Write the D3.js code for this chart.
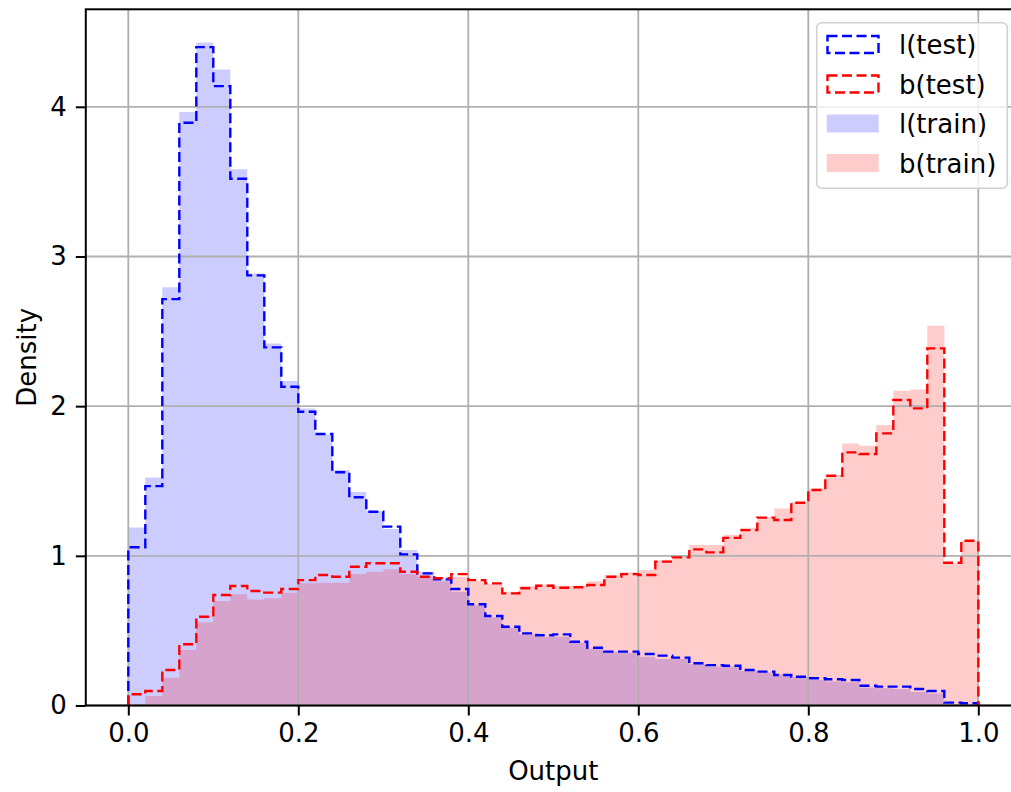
<!DOCTYPE html>
<html>
<head>
<meta charset="utf-8">
<script src="https://cdn.jsdelivr.net/npm/d3@7"></script>
<style>
  html, body { margin: 0; padding: 0; background: #fff; overflow: hidden; }
  svg { display: block; font-family: "DejaVu Sans", sans-serif; }
</style>
</head>
<body>
<svg id="chart" width="1011" height="792"></svg>
<script>
// Histogram densities, 50 equal bins on [0, 1]
const binCount = 50;
const lTest = [1.057,1.466,2.715,3.894,4.399,4.138,3.519,2.874,2.393,2.130,
               1.963,1.814,1.558,1.391,1.295,1.195,1.010,0.883,0.843,0.778,
               0.676,0.598,0.526,0.482,0.469,0.475,0.426,0.386,0.360,0.360,
               0.344,0.333,0.320,0.282,0.270,0.266,0.237,0.226,0.204,0.192,
               0.182,0.175,0.170,0.132,0.126,0.126,0.110,0.097,0.019,0.015];
const bTest = [0.075,0.097,0.237,0.409,0.593,0.738,0.798,0.765,0.754,0.778,
               0.838,0.872,0.860,0.927,0.950,0.950,0.894,0.860,0.850,0.878,
               0.838,0.816,0.749,0.783,0.800,0.787,0.790,0.805,0.860,0.878,
               0.872,0.961,0.990,1.043,1.023,1.120,1.172,1.255,1.239,1.355,
               1.440,1.535,1.691,1.680,1.818,2.041,1.985,2.386,0.954,1.101];
const lTrain = [1.190,1.524,2.794,3.965,4.430,4.250,3.582,2.887,2.419,2.168,
                1.985,1.810,1.573,1.426,1.300,1.179,1.039,0.894,0.840,0.760,
                0.670,0.590,0.520,0.475,0.460,0.460,0.420,0.380,0.355,0.350,
                0.326,0.310,0.310,0.278,0.260,0.260,0.230,0.220,0.210,0.190,
                0.170,0.160,0.155,0.120,0.115,0.110,0.090,0.080,0.010,0.010];
const bTrain = [0.010,0.063,0.186,0.371,0.556,0.698,0.743,0.709,0.716,0.754,
                0.816,0.820,0.820,0.878,0.894,0.910,0.878,0.860,0.830,0.860,
                0.830,0.810,0.760,0.800,0.810,0.800,0.800,0.830,0.870,0.890,
                0.905,0.970,1.000,1.072,1.072,1.140,1.188,1.260,1.317,1.360,
                1.450,1.540,1.751,1.736,1.874,2.103,2.112,2.537,0.950,1.100];

const xTicks = [0, 0.2, 0.4, 0.6, 0.8, 1.0];
const yTicks = [0, 1, 2, 3, 4];
const legendLabels = ["l(test)", "b(test)", "l(train)", "b(train)"];

const svg = d3.select("#chart");
const plot = { left: 85.8, right: 1020.8, top: 9.3, bottom: 705.5 };
const fontSize = 26;

const yMax = d3.max([...lTest, ...bTest, ...lTrain, ...bTrain]) * 1.05;
const x = d3.scaleLinear().domain([-0.05, 1.05]).range([plot.left, plot.right]);
const y = d3.scaleLinear().domain([0, yMax]).range([plot.bottom, plot.top]);

const edges = d3.range(binCount + 1).map(i => i / binCount);

// Outline of a histogram as a step path, from the baseline at 0 to the baseline at 1
function stepPoints(values) {
  const pts = [[edges[0], 0]];
  values.forEach((v, i) => { pts.push([edges[i], v]); pts.push([edges[i + 1], v]); });
  pts.push([edges[binCount], 0]);
  return pts;
}
const line = d3.line().x(d => x(d[0])).y(d => y(d[1]));

// Training histograms: translucent filled steps
const fills = svg.append("g");
fills.append("path").attr("d", line(stepPoints(lTrain)) + "Z")
  .attr("fill", "rgb(0,0,255)").attr("fill-opacity", 0.2);
fills.append("path").attr("d", line(stepPoints(bTrain)) + "Z")
  .attr("fill", "rgb(255,0,0)").attr("fill-opacity", 0.2);

// Grid
const grid = svg.append("g").attr("stroke", "#b0b0b0").attr("stroke-width", 1.8);
grid.selectAll("line.gx").data(xTicks).join("line")
  .attr("x1", d => x(d)).attr("x2", d => x(d))
  .attr("y1", plot.top).attr("y2", plot.bottom);
grid.selectAll("line.gy").data(yTicks).join("line")
  .attr("x1", plot.left).attr("x2", plot.right)
  .attr("y1", d => y(d)).attr("y2", d => y(d));

// Test histograms: dashed step outlines
const dash = "10,4.5";
svg.append("path").attr("d", line(stepPoints(lTest)))
  .attr("fill", "none").attr("stroke", "#0000ff").attr("stroke-width", 2.4)
  .attr("stroke-dasharray", dash);
svg.append("path").attr("d", line(stepPoints(bTest)))
  .attr("fill", "none").attr("stroke", "#ff0000").attr("stroke-width", 2.4)
  .attr("stroke-dasharray", dash);

// Axes
const xAxis = d3.axisBottom(x).tickValues(xTicks).tickFormat(d3.format(".1f"))
  .tickSize(10).tickPadding(8);
const yAxis = d3.axisLeft(y).tickValues(yTicks).tickFormat(d3.format("d"))
  .tickSize(10).tickPadding(9);

const gx = svg.append("g").attr("transform", `translate(0,${plot.bottom})`).call(xAxis);
const gy = svg.append("g").attr("transform", `translate(${plot.left},0)`).call(yAxis);
[gx, gy].forEach(g => {
  g.select(".domain").remove();
  g.selectAll(".tick line").attr("stroke", "#000").attr("stroke-width", 2);
  g.selectAll(".tick text").attr("fill", "#000")
    .style("font-family", "'DejaVu Sans', sans-serif").style("font-size", fontSize + "px");
});

// Spines
const spines = svg.append("g").attr("stroke", "#000").attr("stroke-width", 2).attr("fill", "none");
spines.append("rect")
  .attr("x", plot.left).attr("y", plot.top)
  .attr("width", plot.right - plot.left).attr("height", plot.bottom - plot.top);

// Axis labels
svg.append("text").attr("x", (plot.left + plot.right) / 2).attr("y", 779.5)
  .attr("text-anchor", "middle").style("font-size", fontSize + "px").text("Output");
svg.append("text")
  .attr("transform", `translate(36,${(plot.top + plot.bottom) / 2}) rotate(-90)`)
  .attr("text-anchor", "middle").style("font-size", fontSize + "px").text("Density");

// Legend
const lg = svg.append("g");
lg.append("rect").attr("x", 816.7).attr("y", 22.7).attr("width", 190.6).attr("height", 165.6)
  .attr("rx", 5).attr("fill", "#fff").attr("fill-opacity", 0.8)
  .attr("stroke", "#d0d0d0").attr("stroke-width", 1.5);
const rowY = [44.5, 84, 123.5, 163];
const entries = [
  { label: legendLabels[0], color: "#0000ff", dashed: true },
  { label: legendLabels[1], color: "#ff0000", dashed: true },
  { label: legendLabels[2], color: "rgb(0,0,255)", dashed: false },
  { label: legendLabels[3], color: "rgb(255,0,0)", dashed: false }
];
entries.forEach((e, i) => {
  const cy = rowY[i];
  if (e.dashed) {
    lg.append("rect").attr("x", 827.5).attr("y", cy - 8.5).attr("width", 51).attr("height", 17)
      .attr("fill", "none").attr("stroke", e.color).attr("stroke-width", 2.4)
      .attr("stroke-dasharray", dash);
  } else {
    lg.append("rect").attr("x", 826.7).attr("y", cy - 9).attr("width", 52).attr("height", 18)
      .attr("fill", e.color).attr("fill-opacity", 0.2);
  }
  lg.append("text").attr("x", 899).attr("y", cy + 9.5)
    .style("font-size", fontSize + "px").attr("fill", "#000").text(e.label);
});
</script>
</body>
</html>
